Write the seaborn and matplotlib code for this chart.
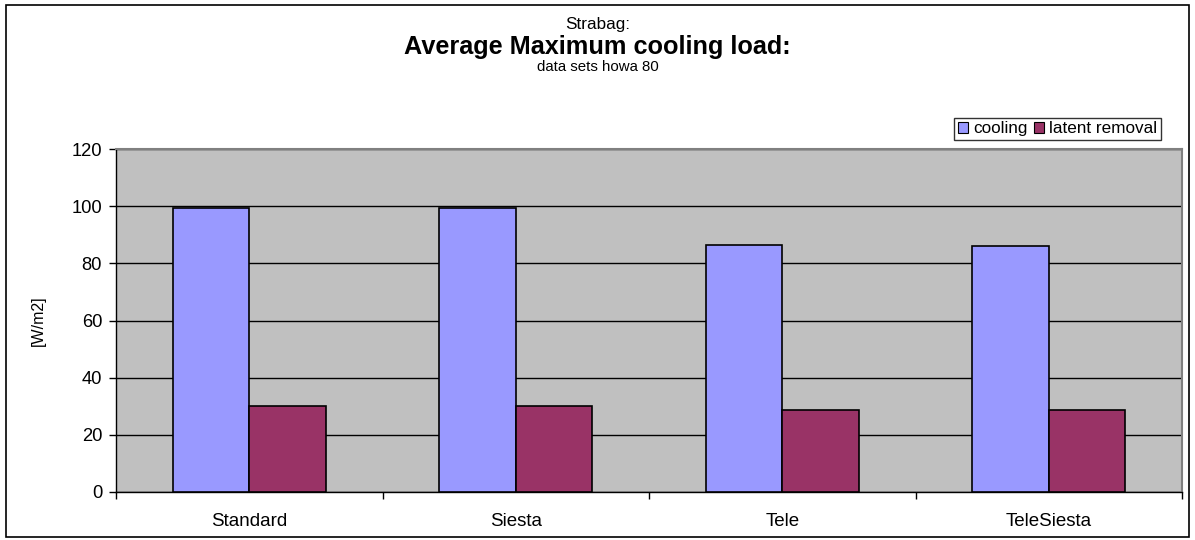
import pandas as pd
import matplotlib.pyplot as plt
import seaborn as sns
from matplotlib.patches import Rectangle, Patch

# values
categories = ['Standard', 'Siesta', 'Tele', 'TeleSiesta']
cooling = [99.4, 99.4, 86.5, 86.0]
latent_removal = [30.1, 30.1, 28.7, 28.7]

data = pd.DataFrame({
    'case': categories * 2,
    'value': cooling + latent_removal,
    'series': ['cooling'] * 4 + ['latent removal'] * 4,
})

sns.set_style('white')
plt.rcParams['font.family'] = ['Liberation Sans', 'DejaVu Sans']
plt.rcParams['text.color'] = 'black'
plt.rcParams['axes.labelcolor'] = 'black'
plt.rcParams['xtick.labelcolor'] = 'black'
plt.rcParams['ytick.labelcolor'] = 'black'

fig = plt.figure(figsize=(11.95, 5.4), dpi=100)
ax = fig.add_axes([116 / 1195, 1 - 492 / 540, (1182 - 116) / 1195, (492 - 149) / 540])

palette = {'cooling': '#9999FF', 'latent removal': '#993366'}
sns.barplot(x='case', y='value', hue='series', data=data, palette=palette,
            width=0.574, gap=0, edgecolor='black', linewidth=1.2,
            saturation=1, legend=False, ax=ax, zorder=3)

ax.set_facecolor('#C0C0C0')
ax.set_ylim(0, 120)
ax.set_xlim(-0.5, 3.5)
ax.set_yticks(range(0, 121, 20))
ax.yaxis.grid(True, color='black', linewidth=1, zorder=1)
ax.set_axisbelow(True)
ax.tick_params(axis='y', length=5, width=1, color='black', left=True, labelsize=13.2, pad=5)
ax.tick_params(axis='x', which='major', length=0, labelsize=13.5, pad=15)
ax.set_xticks([-0.5, 0.5, 1.5, 2.5, 3.5], minor=True)
ax.tick_params(axis='x', which='minor', length=5, width=1, color='black', bottom=True)
ax.set_xlabel('')
ax.set_ylabel('[W/m2]', fontsize=11.5)
ax.yaxis.set_label_coords(-0.066, 0.5)

for side in ['top', 'right']:
    ax.spines[side].set_color('#808080')
    ax.spines[side].set_linewidth(1.5)
for side in ['left', 'bottom']:
    ax.spines[side].set_color('black')
    ax.spines[side].set_linewidth(1)

# titles
fig.text(0.5, 1 - 25 / 540, 'Strabag:', ha='center', va='center', fontsize=12.3)
fig.text(0.5, 1 - 47 / 540, 'Average Maximum cooling load:', ha='center', va='center',
         fontsize=18.2, fontweight='bold')
fig.text(0.5, 1 - 67 / 540, 'data sets howa 80', ha='center', va='center', fontsize=10.8)

# legend
handles = [Patch(facecolor=palette[k], edgecolor='black', linewidth=0.8) for k in palette]
leg = fig.legend(handles, list(palette), loc='upper right',
                 bbox_to_anchor=(1161 / 1195, 1 - 118 / 540), ncol=2, frameon=True,
                 fontsize=12.3, handlelength=0.6, handleheight=0.6, handletextpad=0.3,
                 columnspacing=0.4, borderpad=0.2, fancybox=False, borderaxespad=0)
leg.get_frame().set_edgecolor('black')
leg.get_frame().set_linewidth(1)

# outer chart border
fig.patches.append(Rectangle((6 / 1195, 3 / 540), 1183 / 1195, 532 / 540,
                             transform=fig.transFigure, fill=False,
                             edgecolor='black', linewidth=1.2))

fig.savefig('out.png', dpi=100)
